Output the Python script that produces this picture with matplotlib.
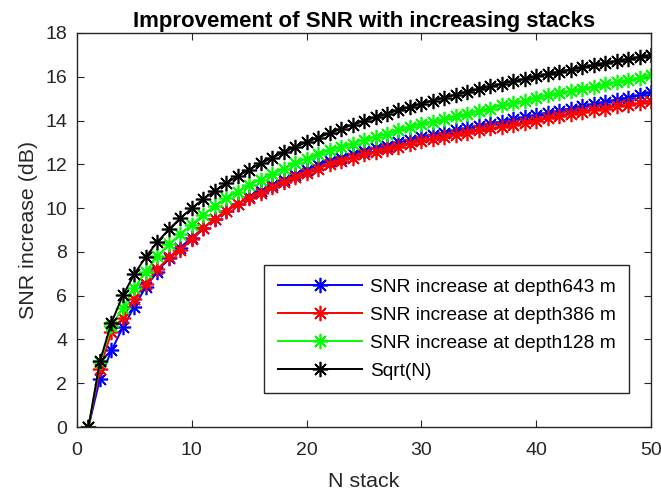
import numpy as np
import matplotlib
matplotlib.use('Agg')
import matplotlib.pyplot as plt

plt.rcParams['font.family'] = ['Liberation Sans', 'DejaVu Sans']

# N stack values
n_stack = list(range(1, 51))

# SNR increase (dB)
snr_643 = [0, 2.2, 3.5, 4.55, 5.5, 6.4, 7.1, 7.7, 8.2, 8.65,
           9.1, 9.5, 9.85, 10.2, 10.5, 10.8, 11.05, 11.3, 11.5, 11.75,
           11.95, 12.15, 12.3, 12.45, 12.6, 12.75, 12.85, 13.0, 13.1, 13.25,
           13.35, 13.45, 13.55, 13.65, 13.75, 13.85, 13.95, 14.05, 14.15, 14.25,
           14.35, 14.45, 14.55, 14.65, 14.75, 14.85, 14.95, 15.05, 15.15, 15.3]
snr_386 = [0, 2.65, 4.35, 5.0, 5.85, 6.55, 7.2, 7.75, 8.1, 8.6,
           9.1, 9.5, 9.85, 10.2, 10.45, 10.7, 10.95, 11.2, 11.4, 11.6,
           11.8, 12.0, 12.15, 12.3, 12.45, 12.55, 12.7, 12.8, 12.95, 13.05,
           13.15, 13.25, 13.35, 13.45, 13.55, 13.65, 13.7, 13.8, 13.9, 14.0,
           14.1, 14.2, 14.3, 14.4, 14.5, 14.55, 14.65, 14.7, 14.8, 14.9]
snr_128 = [0, 2.95, 4.6, 5.45, 6.35, 7.1, 7.8, 8.35, 8.8, 9.25,
           9.7, 10.1, 10.45, 10.75, 11.05, 11.3, 11.55, 11.8, 12.05, 12.25,
           12.45, 12.65, 12.8, 12.95, 13.1, 13.25, 13.4, 13.55, 13.7, 13.85,
           13.95, 14.05, 14.2, 14.3, 14.45, 14.55, 14.7, 14.8, 14.9, 15.05,
           15.15, 15.25, 15.35, 15.45, 15.55, 15.65, 15.75, 15.85, 15.95, 16.1]
snr_sqrt = [0, 3.01, 4.77, 6.02, 6.99, 7.78, 8.45, 9.03, 9.54, 10.0,
            10.41, 10.79, 11.14, 11.46, 11.76, 12.04, 12.3, 12.55, 12.79, 13.01,
            13.22, 13.42, 13.62, 13.8, 13.98, 14.15, 14.31, 14.47, 14.62, 14.77,
            14.91, 15.05, 15.19, 15.31, 15.44, 15.56, 15.68, 15.8, 15.91, 16.02,
            16.13, 16.23, 16.33, 16.43, 16.53, 16.63, 16.72, 16.81, 16.9, 16.99]

labels = ['SNR increase at depth643 m', 'SNR increase at depth386 m',
          'SNR increase at depth128 m', 'Sqrt(N)']
colors = ['#0000ff', '#ff0000', '#00ff00', '#000000']

fig = plt.figure(figsize=(6.61, 4.91), dpi=100)
ax = fig.add_axes([0.1165, 0.1303, 0.8685, 0.8025])

# MATLAB-style asterisk: 8 spokes
asterisk = (8, 2, 0)
for ys, lab, c in zip([snr_643, snr_386, snr_128, snr_sqrt], labels, colors):
    ax.plot(n_stack, ys, color=c, marker=asterisk, markersize=11, lw=1.4,
            markeredgewidth=1.2, label=lab)

ax.set_xlim(0, 50)
ax.set_ylim(0, 18)
ax.set_xticks(np.arange(0, 51, 10))
ax.set_yticks(np.arange(0, 19, 2))

gray = '#262626'
for s in ax.spines.values():
    s.set_color(gray)
    s.set_linewidth(1.0)
ax.tick_params(direction='in', top=True, right=True, labelsize=14,
               colors=gray, length=5)
ax.tick_params(axis='x', pad=11)
ax.tick_params(axis='y', pad=7)

ax.set_xlabel('N stack', fontsize=15.4, color=gray, labelpad=9)
ax.set_ylabel('SNR increase (dB)', fontsize=15.4, color=gray, labelpad=5)
ax.set_title('Improvement of SNR with increasing stacks', fontsize=16,
             fontweight='bold', pad=4)

leg = ax.legend(loc='lower right', bbox_to_anchor=(0.9615, 0.0855),
                borderaxespad=0, fontsize=13.8, fancybox=False,
                edgecolor=gray, framealpha=1, handlelength=4.4,
                handletextpad=0.4, labelspacing=0.55, borderpad=0.7)
leg.get_frame().set_linewidth(1.0)

fig.savefig('out.png', dpi=100)
